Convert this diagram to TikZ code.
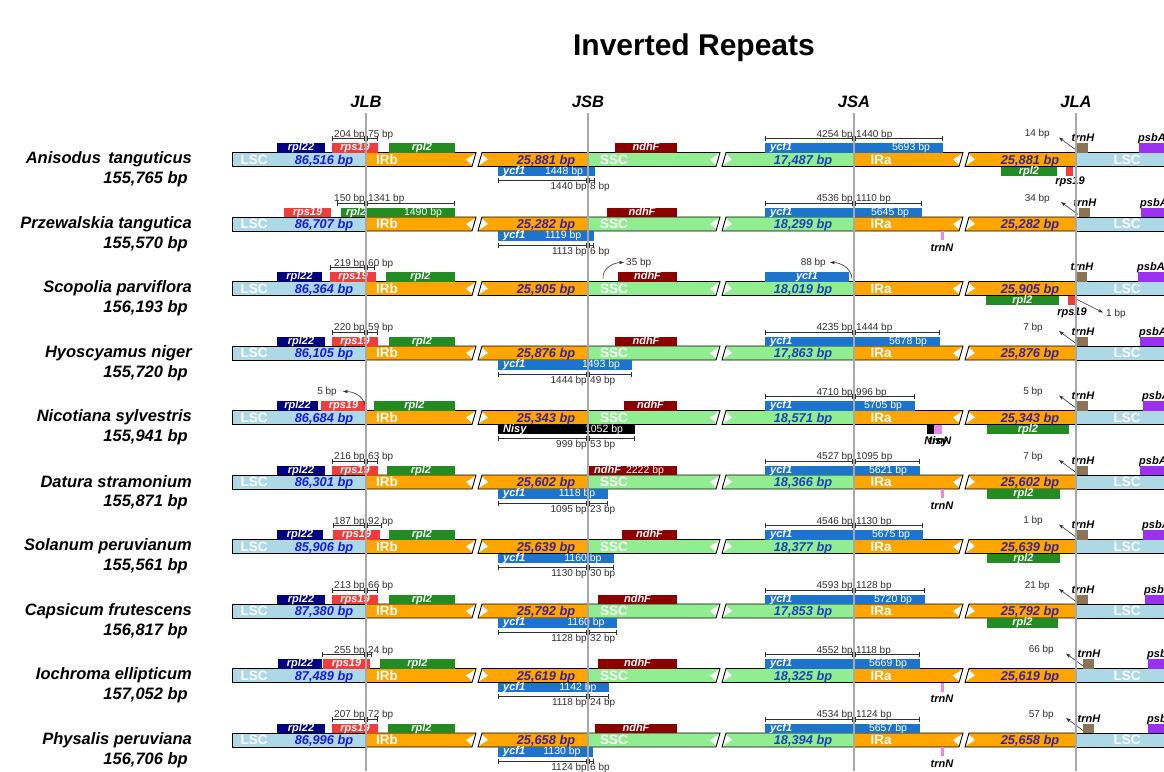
\documentclass[tikz,border=0pt]{standalone}
\usepackage{fontspec}
\setmainfont{Liberation Sans}
\usetikzlibrary{arrows.meta}
\definecolor{lscF}{HTML}{ADD8E6}
\definecolor{irF}{HTML}{FFA500}
\definecolor{sscF}{HTML}{90EE90}
\definecolor{lscT}{HTML}{1A1ADB}
\definecolor{irT}{HTML}{3B2299}
\definecolor{sscT}{HTML}{1F3FBF}
\definecolor{cRplTT}{HTML}{000080}
\definecolor{cRps}{HTML}{F23C3C}
\definecolor{cRpl}{HTML}{228B22}
\definecolor{cNdh}{HTML}{8B0000}
\definecolor{cYcf}{HTML}{1C74CC}
\definecolor{cTrnH}{HTML}{8B7355}
\definecolor{cPsb}{HTML}{9B30F0}
\definecolor{cTrnN}{HTML}{EE82EE}
\definecolor{cJunc}{HTML}{A8A8A8}
\definecolor{cDim}{HTML}{303030}
\newcounter{autonode}
\tikzset{
  every node/.append style={/utils/exec={\stepcounter{autonode}}, name=n\arabic{autonode}},
  genelbl/.style={font=\fontsize{11}{12}\selectfont\bfseries\itshape, text=white, inner sep=0},
  genenum/.style={font=\fontsize{10.5}{12}\selectfont, text=white, inner sep=0},
  seglbl/.style={font=\fontsize{13.5}{14}\selectfont\bfseries, text=white, inner sep=0, anchor=base},
  lscnum/.style={font=\fontsize{12.8}{14}\selectfont\bfseries\itshape, text=lscT, inner sep=0, anchor=base},
  irnum/.style={font=\fontsize{12.8}{14}\selectfont\bfseries\itshape, text=irT, inner sep=0, anchor=base},
  sscnum/.style={font=\fontsize{12.8}{14}\selectfont\bfseries\itshape, text=sscT, inner sep=0, anchor=base},
  namelbl/.style={font=\fontsize{16.5}{18}\selectfont\bfseries\itshape, inner sep=0},
  junclbl/.style={font=\fontsize{16.5}{18}\selectfont\bfseries\itshape, inner sep=0},
  dimlbl/.style={font=\fontsize{10}{11}\selectfont, text=cDim, inner sep=0},
  extlbl/.style={font=\fontsize{11}{12}\selectfont\bfseries\itshape, inner sep=0},
  dimline/.style={draw=cDim, line width=0.6pt, {Bar[width=5pt]}-{Bar[width=5pt]}},
  barline/.style={draw=black, line width=0.9pt},
  junc/.style={draw=cJunc, line width=1.3pt},
  ptr/.style={draw=cDim, line width=0.6pt, -{Stealth[length=5pt,width=3.5pt]}},
}
% first piece of a broken segment
\newcommand\PieceA[3]{%
  \fill[#3] (#1,-7) -- ({#2+4},-7) -- (#2,7) -- (#1,7) -- cycle;
  \fill[white] ({#2+3.4},-6) -- ({#2-6},0) -- ({#2+0.6},6) -- cycle;
  \draw[barline] (#1,-7) -- ({#2+4},-7) -- (#2,7) -- (#1,7);
}
% second piece of a broken segment
\newcommand\PieceB[3]{%
  \fill[#3] ({#1+4},-7) -- (#2,-7) -- (#2,7) -- (#1,7) -- cycle;
  \fill[white] ({#1+3.4},-6) -- ({#1+0.6},6) -- ({#1+10},0) -- cycle;
  \draw[barline] (#2,-7) -- ({#1+4},-7) -- (#1,7) -- (#2,7);
}
\newcommand\BarRow[5]{%
  \fill[lscF] (232,-7) rectangle (366,7);
  \draw[barline] (366,-7) -- (232,-7) -- (232,7) -- (366,7);
  \PieceA{366}{472}{irF}
  \PieceB{478}{588}{irF}
  \PieceA{588}{716}{sscF}
  \PieceB{722}{854}{sscF}
  \PieceA{854}{959}{irF}
  \PieceB{965}{1076}{irF}
  \fill[lscF] (1076,-7) rectangle (1170,7);
  \draw[barline] (1076,-7) -- (1170,-7) (1076,7) -- (1170,7);
  \node[seglbl] at (254,4.8) {LSC};
  \node[lscnum] at (324,4.6) {#3};
  \node[seglbl] at (387,4.8) {IRb};
  \node[irnum] at (546,4.6) {#4};
  \node[seglbl] at (614,4.8) {SSC};
  \node[sscnum] at (803,4.6) {#5};
  \node[seglbl] at (881,4.8) {IRa};
  \node[irnum] at (1030,4.6) {#4};
  \node[seglbl] at (1127,4.8) {LSC};
  \node[namelbl,anchor=east] at (192,0) {#1};
  \node[namelbl,anchor=east] at (188,20) {#2};
}
\newcommand\GU[4]{%
  \fill[#3] (#1,-16.5) rectangle (#2,-7);
  \node[genelbl,anchor=base] at ({(#1+#2)/2},-8.8) {#4};
}
\newcommand\GUT[5]{%
  \fill[#3] (#1,-16.5) rectangle (#2,-7);
  \node[genelbl,anchor=base west] at ({#1+5},-8.8) {#4};
  \node[genenum,anchor=base] at ({#2-32},-8.8) {#5};
}
\newcommand\GD[4]{%
  \fill[#3] (#1,7) rectangle (#2,16.5);
  \node[genelbl,anchor=base] at ({(#1+#2)/2},14.6) {#4};
}
\newcommand\GDT[5]{%
  \fill[#3] (#1,7) rectangle (#2,16.5);
  \node[genelbl,anchor=base west] at ({#1+5},14.6) {#4};
  \node[genenum,anchor=base] at ({#2-31},14.6) {#5};
}
\newcommand\DimUp[5]{%
  \draw[dimline] (#1,-21) -- (#3,-21);
  \draw[cDim,line width=0.5pt] ({#2-1.3},-23) rectangle ({#2+1.3},-19);
  \node[dimlbl,anchor=base east] at ({#2-1},-22.3) {#4};
  \node[dimlbl,anchor=base west] at ({#2+2},-22.3) {#5};
}
\newcommand\DimDn[5]{%
  \draw[dimline] (#1,21) -- (#3,21);
  \draw[cDim,line width=0.5pt] ({#2-1.3},19) rectangle ({#2+1.3},23);
  \node[dimlbl,anchor=base east] at ({#2-1},30) {#4};
  \node[dimlbl,anchor=base west] at ({#2+2},30) {#5};
}
\newcommand\TrnH[1]{%
  \fill[cTrnH] (#1,-16.5) rectangle ({#1+11},-7);
  \node[extlbl,anchor=base] at ({#1+6},-18) {trnH};
}
\newcommand\PsbA[1]{%
  \fill[cPsb] (#1,-16.5) rectangle (1170,-7);
  \node[extlbl,anchor=base west] at ({#1-1},-18) {psbA};
}
\newcommand\BpArrow[3]{%
  \draw[ptr] (#1,-9.5) -- ({#1-17},-22);
  \node[dimlbl,anchor=base east] at (#3,-23) {#2};
}
\newcommand\TrnN[1]{%
  \fill[cTrnN] ({#1-1.5},7) rectangle ({#1+1.5},16);
  \node[extlbl,anchor=base] at (#1,27) {trnN};
}
\begin{document}
\begin{tikzpicture}[x=1pt,y=-1pt]
\useasboundingbox (0,0) rectangle (1164,771);
\fill[white] (0,0) rectangle (1164,771);
\node[font=\fontsize{30}{32}\selectfont\bfseries, inner sep=0] (title) at (694,48) {Inverted Repeats};
\node[junclbl] (jlb) at (366,102) {JLB};
\node[junclbl] (jsb) at (588,102) {JSB};
\node[junclbl] (jsa) at (854,102) {JSA};
\node[junclbl] (jla) at (1076,102) {JLA};

% Row 1
\begin{scope}[shift={(0,159.5)}]
\BarRow{Anisodus\hspace{0.45em}tanguticus}{155,765 bp}{86,516 bp}{25,881 bp}{17,487 bp}
\GU{277}{325}{cRplTT}{rpl22}
\GU{332}{378}{cRps}{rps19}
\GU{389}{455}{cRpl}{rpl2}
\DimUp{332}{366}{378}{204 bp}{75 bp}
\GU{615}{677}{cNdh}{ndhF}
\GUT{765}{943}{cYcf}{ycf1}{5693 bp}
\DimUp{765}{854}{943}{4254 bp}{1440 bp}
\TrnH{1077}
\BpArrow{1076}{14 bp}{1050}
\PsbA{1139}
\GDT{498}{595}{cYcf}{ycf1}{1448 bp}
\DimDn{498}{588}{595}{1440 bp}{8 bp}
\GD{1001}{1057}{cRpl}{rpl2}
\fill[cRps] (1066,7) rectangle (1073,16.5);
\node[extlbl,anchor=base] at (1070,25) {rps19};
\end{scope}

% Row 2
\begin{scope}[shift={(0,224)}]
\BarRow{Przewalskia tangutica}{155,570 bp}{86,707 bp}{25,282 bp}{18,299 bp}
\GU{284}{331}{cRps}{rps19}
\GUT{341}{455}{cRpl}{rpl2}{1490 bp}
\DimUp{337}{366}{455}{150 bp}{1341 bp}
\GU{607}{677}{cNdh}{ndhF}
\GUT{765}{922}{cYcf}{ycf1}{5645 bp}
\DimUp{765}{854}{922}{4536 bp}{1110 bp}
\TrnH{1079}
\BpArrow{1078}{34 bp}{1050}
\PsbA{1141}
\GDT{498}{594}{cYcf}{ycf1}{1119 bp}
\DimDn{498}{588}{594}{1113 bp}{6 bp}
\TrnN{942}
\end{scope}

% Row 3
\begin{scope}[shift={(0,288.5)}]
\BarRow{Scopolia parviflora}{156,193 bp}{86,364 bp}{25,905 bp}{18,019 bp}
\GU{277}{322}{cRplTT}{rpl22}
\GU{330}{376}{cRps}{rps19}
\GU{386}{455}{cRpl}{rpl2}
\DimUp{330}{366}{375}{219 bp}{60 bp}
\GU{618}{677}{cNdh}{ndhF}
\draw[ptr] (603,-10) to[out=95,in=180] (624,-26);
\node[dimlbl,anchor=west] at (626,-26) {35 bp};
\GU{765}{849}{cYcf}{ycf1}
\draw[ptr] (852,-10) to[out=95,in=0] (830,-26);
\node[dimlbl,anchor=east] at (826,-26) {88 bp};
\TrnH{1076}
\PsbA{1138}
\GD{986}{1059}{cRpl}{rpl2}
\fill[cRps] (1068,7) rectangle (1076,16.5);
\node[extlbl,anchor=base] at (1072,27) {rps19};
\draw[ptr] (1077,11) -- (1103,24);
\node[dimlbl,anchor=west] at (1106,25) {1 bp};
\end{scope}

% Row 4
\begin{scope}[shift={(0,353)}]
\BarRow{Hyoscyamus niger}{155,720 bp}{86,105 bp}{25,876 bp}{17,863 bp}
\GU{277}{325}{cRplTT}{rpl22}
\GU{332}{378}{cRps}{rps19}
\GU{389}{455}{cRpl}{rpl2}
\DimUp{332}{366}{378}{220 bp}{59 bp}
\GU{615}{677}{cNdh}{ndhF}
\GUT{765}{940}{cYcf}{ycf1}{5678 bp}
\DimUp{765}{854}{940}{4235 bp}{1444 bp}
\TrnH{1077}
\BpArrow{1076}{7 bp}{1043}
\PsbA{1140}
\GDT{498}{632}{cYcf}{ycf1}{1493 bp}
\DimDn{498}{588}{632}{1444 bp}{49 bp}
\end{scope}

% Row 5
\begin{scope}[shift={(0,417.5)}]
\BarRow{Nicotiana sylvestris}{155,941 bp}{86,684 bp}{25,343 bp}{18,571 bp}
\GU{277}{318}{cRplTT}{rpl22}
\GU{321}{366}{cRps}{rps19}
\GU{374}{455}{cRpl}{rpl2}
\draw[ptr] (365,-12) to[out=100,in=0] (343,-26);
\node[dimlbl,anchor=east] at (337,-26) {5 bp};
\GU{624}{677}{cNdh}{ndhF}
\GUT{765}{915}{cYcf}{ycf1}{5705 bp}
\DimUp{765}{854}{915}{4710 bp}{996 bp}
\TrnH{1077}
\BpArrow{1076}{5 bp}{1043}
\PsbA{1143}
\GDT{498}{635}{black}{Nisy}{1052 bp}
\DimDn{498}{588}{635}{999 bp}{53 bp}
\fill[black] (927,7) rectangle (934,16.5);
\fill[cTrnN] (934,7) rectangle (942,16.5);
\node[extlbl,anchor=base] at (936,27) {Nisy};
\node[extlbl,anchor=base] at (940,27) {trnN};
\GD{987}{1069}{cRpl}{rpl2}
\end{scope}

% Row 6
\begin{scope}[shift={(0,482)}]
\BarRow{Datura stramonium}{155,871 bp}{86,301 bp}{25,602 bp}{18,366 bp}
\GU{277}{325}{cRplTT}{rpl22}
\GU{332}{378}{cRps}{rps19}
\GU{387}{455}{cRpl}{rpl2}
\DimUp{332}{366}{378}{216 bp}{63 bp}
\GUT{589}{677}{cNdh}{ndhF}{2222 bp}
\GUT{765}{920}{cYcf}{ycf1}{5621 bp}
\DimUp{765}{854}{920}{4527 bp}{1095 bp}
\TrnH{1077}
\BpArrow{1076}{7 bp}{1043}
\PsbA{1140}
\GDT{498}{608}{cYcf}{ycf1}{1118 bp}
\DimDn{498}{588}{608}{1095 bp}{23 bp}
\TrnN{942}
\GD{987}{1060}{cRpl}{rpl2}
\end{scope}

% Row 7
\begin{scope}[shift={(0,546.5)}]
\BarRow{Solanum peruvianum}{155,561 bp}{85,906 bp}{25,639 bp}{18,377 bp}
\GU{277}{323}{cRplTT}{rpl22}
\GU{333}{380}{cRps}{rps19}
\GU{389}{455}{cRpl}{rpl2}
\DimUp{333}{366}{382}{187 bp}{92 bp}
\GU{622}{677}{cNdh}{ndhF}
\GUT{765}{923}{cYcf}{ycf1}{5675 bp}
\DimUp{765}{854}{923}{4546 bp}{1130 bp}
\TrnH{1077}
\BpArrow{1076}{1 bp}{1043}
\PsbA{1143}
\GDT{498}{614}{cYcf}{ycf1}{1160 bp}
\DimDn{498}{588}{614}{1130 bp}{30 bp}
\GD{987}{1060}{cRpl}{rpl2}
\end{scope}

% Row 8
\begin{scope}[shift={(0,611)}]
\BarRow{Capsicum frutescens}{156,817 bp}{87,380 bp}{25,792 bp}{17,853 bp}
\GU{277}{325}{cRplTT}{rpl22}
\GU{332}{378}{cRps}{rps19}
\GU{389}{455}{cRpl}{rpl2}
\DimUp{332}{366}{378}{213 bp}{66 bp}
\GU{598}{677}{cNdh}{ndhF}
\GUT{765}{925}{cYcf}{ycf1}{5720 bp}
\DimUp{765}{854}{925}{4593 bp}{1128 bp}
\TrnH{1077}
\BpArrow{1076}{21 bp}{1050}
\PsbA{1145}
\GDT{498}{617}{cYcf}{ycf1}{1160 bp}
\DimDn{498}{588}{617}{1128 bp}{32 bp}
\GD{987}{1058}{cRpl}{rpl2}
\end{scope}

% Row 9
\begin{scope}[shift={(0,675.5)}]
\BarRow{Iochroma ellipticum}{157,052 bp}{87,489 bp}{25,619 bp}{18,325 bp}
\GU{278}{322}{cRplTT}{rpl22}
\GU{323}{370}{cRps}{rps19}
\GU{380}{455}{cRpl}{rpl2}
\DimUp{322}{366}{372}{255 bp}{24 bp}
\GU{598}{677}{cNdh}{ndhF}
\GUT{765}{920}{cYcf}{ycf1}{5669 bp}
\DimUp{765}{854}{920}{4552 bp}{1118 bp}
\TrnH{1083}
\BpArrow{1083}{66 bp}{1054}
\PsbA{1148}
\GDT{498}{609}{cYcf}{ycf1}{1142 bp}
\DimDn{498}{588}{609}{1118 bp}{24 bp}
\TrnN{942}
\end{scope}

% Row 10
\begin{scope}[shift={(0,740)}]
\BarRow{Physalis peruviana}{156,706 bp}{86,996 bp}{25,658 bp}{18,394 bp}
\GU{277}{325}{cRplTT}{rpl22}
\GU{332}{378}{cRps}{rps19}
\GU{388}{455}{cRpl}{rpl2}
\DimUp{332}{366}{378}{207 bp}{72 bp}
\GU{595}{677}{cNdh}{ndhF}
\GUT{765}{920}{cYcf}{ycf1}{5657 bp}
\DimUp{765}{854}{920}{4534 bp}{1124 bp}
\TrnH{1083}
\BpArrow{1083}{57 bp}{1054}
\PsbA{1148}
\GDT{498}{593}{cYcf}{ycf1}{1130 bp}
\DimDn{498}{588}{594}{1124 bp}{6 bp}
\TrnN{942}
\end{scope}

% junction lines
\coordinate (jlbEnd) at (366,771);
\coordinate (jsbEnd) at (588,771);
\coordinate (jsaEnd) at (854,771);
\coordinate (jlaEnd) at (1076,771);
\draw[junc] (366,113) -- (jlbEnd);
\draw[junc] (588,113) -- (jsbEnd);
\draw[junc] (854,113) -- (jsaEnd);
\draw[junc] (1076,113) -- (jlaEnd);
\end{tikzpicture}
\end{document}
